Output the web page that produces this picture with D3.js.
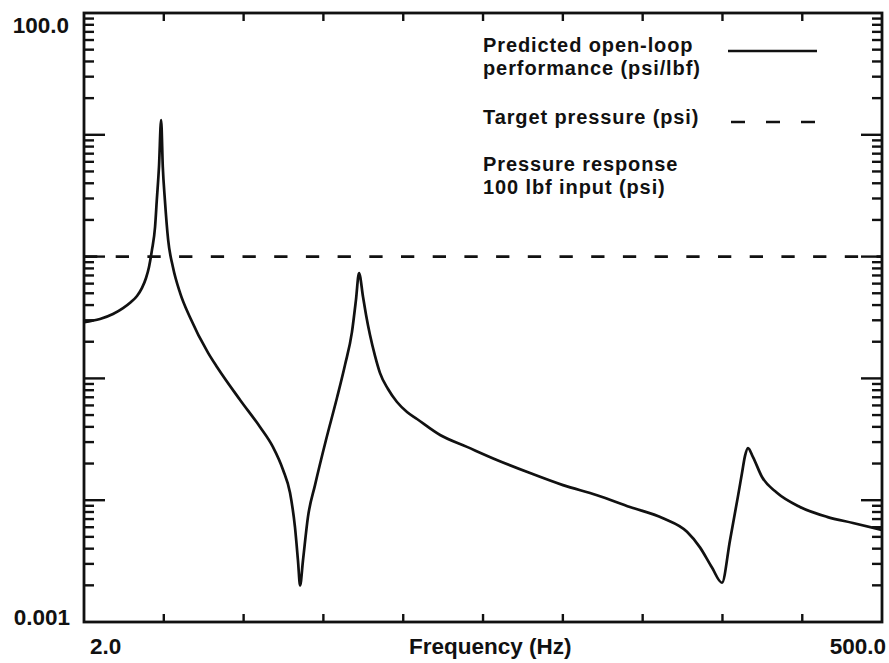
<!DOCTYPE html>
<html>
<head>
<meta charset="utf-8">
<script src="https://cdn.jsdelivr.net/npm/d3@7"></script>
<style>
  body { margin: 0; background: #fff; }
  svg { display: block; }
  text { font-family: "Liberation Sans", Arial, Helvetica, sans-serif; font-weight: bold; fill: #111; }
</style>
</head>
<body>
<svg id="chart" width="889" height="663"></svg>
<script>
// Open-loop response (Hz, psi/lbf)
const freqHz = [2.0, 2.234, 2.444, 2.620, 2.769, 2.886, 2.988, 3.072, 3.136, 3.20, 3.27, 3.31, 3.36, 3.41,
  3.45, 3.50, 3.58, 3.70, 3.89, 4.16, 4.72, 5.02, 5.89, 6.76, 7.39, 7.93, 8.32, 8.61, 8.79, 8.92,
  9.10, 9.42, 9.89, 10.67, 11.51, 12.17, 12.77, 13.13, 13.41,
  13.79, 14.08, 14.47, 14.98, 15.50, 16.39, 17.44, 18.69, 20.03, 23.5, 28.3, 34.8, 43.8, 55.0, 69.6, 87.4, 109.9,
  129.7, 141.9, 154.2, 165.2, 174.7, 184.6, 189.8, 193.8, 197.8, 204.8, 218.0, 241.7, 283.5, 341.7, 409.0, 500.0];
const responsePsi = [0.290, 0.3075, 0.338, 0.378, 0.424, 0.475, 0.553, 0.667, 0.822, 1.13, 1.75, 2.92, 5.44, 13.2,
  5.44, 2.92, 1.37, 0.822, 0.502, 0.319, 0.162, 0.124, 0.0665, 0.0399, 0.0274, 0.0177, 0.0115, 0.0060, 0.0032, 0.0020,
  0.0032, 0.0073, 0.0133, 0.0312, 0.0690, 0.129, 0.240, 0.441, 0.733,
  0.466, 0.332, 0.227, 0.153, 0.111, 0.0818, 0.0640, 0.0530, 0.0464, 0.0343, 0.0274, 0.0214, 0.0167, 0.0133, 0.0110, 0.0088, 0.0071,
  0.0055, 0.0041, 0.0028, 0.0021, 0.0047, 0.0108, 0.0167, 0.0231, 0.0268, 0.0226, 0.0155, 0.0115, 0.0088, 0.0073, 0.0065, 0.0057];

const targetPsi = 1.0;
const xDomain = [2, 500];
const yDomain = [0.001, 100];
const xTickValues = [3.474, 6.035, 10.48, 18.21, 31.63, 54.95, 95.45, 165.8, 288.0];
const yLabels = ["100.0", "0.001"];
const xLabels = ["2.0", "500.0"];
const xTitle = "Frequency (Hz)";
const legendItems = [
  { lines: ["Predicted open-loop", "performance (psi/lbf)"], style: "solid" },
  { lines: ["Target pressure (psi)"], style: "dashed" },
  { lines: ["Pressure response", "100 lbf input (psi)"], style: "none" }
];

const svg = d3.select("#chart");
const plotL = 84, plotR = 882, plotT = 13, plotB = 622;
const fontSize = 22.5;

const x = d3.scaleLog().domain(xDomain).range([plotL, plotR]);
const y = d3.scaleLog().domain(yDomain).range([plotB, plotT]);

const isMajor = v => Math.abs(Math.log10(v) - Math.round(Math.log10(v))) < 1e-6;
const yTicks = y.ticks().filter(v => v > yDomain[0] && v < yDomain[1]);

// ticks on all four sides, pointing inward
const axes = svg.append("g").attr("stroke", "#111").attr("stroke-width", 2.4);
axes.selectAll("line.yl").data(yTicks).enter().append("line")
  .attr("x1", plotL).attr("x2", d => plotL + (isMajor(d) ? 21 : 10))
  .attr("y1", d => y(d)).attr("y2", d => y(d));
axes.selectAll("line.yr").data(yTicks).enter().append("line")
  .attr("x1", plotR).attr("x2", d => plotR - (isMajor(d) ? 21 : 10))
  .attr("y1", d => y(d)).attr("y2", d => y(d));
axes.selectAll("line.xb").data(xTickValues).enter().append("line")
  .attr("x1", d => x(d)).attr("x2", d => x(d))
  .attr("y1", plotB).attr("y2", plotB - 8);
axes.selectAll("line.xt").data(xTickValues).enter().append("line")
  .attr("x1", d => x(d)).attr("x2", d => x(d))
  .attr("y1", plotT).attr("y2", plotT + 8);

svg.append("rect")
  .attr("x", plotL).attr("y", plotT)
  .attr("width", plotR - plotL).attr("height", plotB - plotT)
  .attr("fill", "none").attr("stroke", "#111").attr("stroke-width", 2.8);

// target pressure
svg.append("line")
  .attr("x1", plotL).attr("x2", plotR)
  .attr("y1", y(targetPsi)).attr("y2", y(targetPsi))
  .attr("stroke", "#111").attr("stroke-width", 2.6)
  .attr("stroke-dasharray", "13.3 18.4");

// response curve
const pts = freqHz.map((f, i) => [f, responsePsi[i]]);
svg.append("path")
  .datum(pts)
  .attr("fill", "none").attr("stroke", "#111").attr("stroke-width", 2.7)
  .attr("stroke-linejoin", "round")
  .attr("d", d3.line().x(d => x(d[0])).y(d => y(d[1])).curve(d3.curveMonotoneX));

// axis labels
svg.append("text").attr("x", 69).attr("y", 33).attr("text-anchor", "end")
  .attr("font-size", fontSize).text(yLabels[0]);
svg.append("text").attr("x", 70).attr("y", 625).attr("text-anchor", "end")
  .attr("font-size", fontSize).text(yLabels[1]);
svg.append("text").attr("x", 90).attr("y", 654)
  .attr("font-size", fontSize).text(xLabels[0]);
svg.append("text").attr("x", 886).attr("y", 654).attr("text-anchor", "end")
  .attr("font-size", fontSize).text(xLabels[1]);
svg.append("text").attr("x", 409).attr("y", 654)
  .attr("font-size", fontSize).text(xTitle);

// legend (tighter font with tracking so two-line entries don't collide)
const legendTop = [52, 124, 171];
const lineGap = 22.5;
legendItems.forEach((item, i) => {
  const g = svg.append("g");
  item.lines.forEach((t, j) => {
    g.append("text").attr("x", 483).attr("y", legendTop[i] + j * lineGap)
      .attr("font-size", 20).attr("letter-spacing", 0.9).text(t);
  });
  if (item.style === "none") return;
  const ly = legendTop[i] - (i === 0 ? 1 : 2);
  g.append("line")
    .attr("x1", item.style === "solid" ? 728 : 731).attr("x2", 817)
    .attr("y1", ly).attr("y2", ly)
    .attr("stroke", "#111").attr("stroke-width", 2.6)
    .attr("stroke-dasharray", item.style === "dashed" ? "14 21" : null);
});
</script>
</body>
</html>
